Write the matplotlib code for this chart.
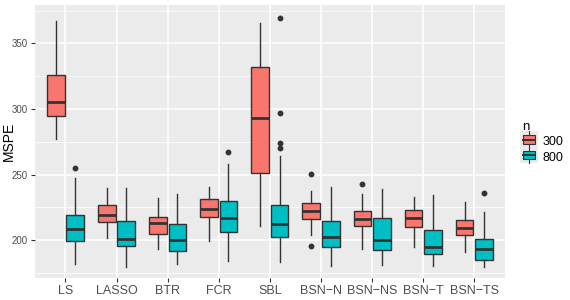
import matplotlib
matplotlib.use("Agg")
import matplotlib.pyplot as plt
from matplotlib.legend_handler import HandlerBase
from matplotlib.patches import Rectangle
from matplotlib.lines import Line2D

plt.rcParams["font.family"] = ["Liberation Sans", "DejaVu Sans"]

# methods on the x axis
methods = ["LS", "LASSO", "BTR", "FCR", "SBL", "BSN\u2212N", "BSN\u2212NS", "BSN\u2212T", "BSN\u2212TS"]

# box stats, one list per group (n = 300 / n = 800)
lo_300 = [277, 201.3, 193, 199.5, 211, 203.8, 192.9, 194.9, 191.1]
q1_300 = [295, 213.5, 205, 217.8, 250.9, 216.3, 210.4, 209.7, 203.6]
med_300 = [305.5, 219, 213.2, 223.6, 292.8, 222.4, 216.3, 216.5, 208.9]
q3_300 = [326, 226.5, 217.5, 231, 332.2, 228.2, 222.4, 222.6, 215]
hi_300 = [367, 240, 232, 240.7, 365.8, 237.6, 235, 232.6, 229.2]
out_300 = [[], [], [], [], [], [250.3, 195.7], [242.7], [], []]

lo_800 = [181.5, 179.4, 181.7, 184.2, 183, 180.2, 181, 180.4, 179.6]
q1_800 = [199, 195.7, 192, 206.3, 202, 194.9, 192.1, 189.3, 184.7]
med_800 = [208.6, 200.8, 200, 216.8, 212, 202.5, 200, 194.7, 192.9]
q3_800 = [219, 214.5, 212.5, 230, 227, 214.7, 216.5, 207.6, 200.8]
hi_800 = [247, 239.4, 234.9, 258, 264, 240.2, 238.7, 234, 221.6]
out_800 = [[255], [], [], [267.4], [369.3, 296.6, 274.2, 270], [], [], [], [235.9]]

groups = ["300", "800"]
colors = ["#F8766D", "#00BFC4"]
edge = "#333333"


def make_stats(lo, q1, med, q3, hi, out):
    return [dict(whislo=a, q1=b, med=c, q3=d, whishi=e, fliers=f)
            for a, b, c, d, e, f in zip(lo, q1, med, q3, hi, out)]


stats = [make_stats(lo_300, q1_300, med_300, q3_300, hi_300, out_300),
         make_stats(lo_800, q1_800, med_800, q3_800, hi_800, out_800)]

fig = plt.figure(figsize=(5.7, 3.0), dpi=100)
ax = fig.add_axes([0.061, 0.073, 0.825, 0.91])
ax.set_facecolor("#EBEBEB")

# grid like ggplot theme_grey
for v in [175, 225, 275, 325, 375]:
    ax.axhline(v, color="white", lw=0.6, zorder=0)
for v in [200, 250, 300, 350]:
    ax.axhline(v, color="white", lw=1.1, zorder=0)
for i in range(len(methods)):
    ax.axvline(i, color="white", lw=1.1, zorder=0)

offset = 0.19
width = 0.345
for g, (st, col) in enumerate(zip(stats, colors)):
    pos = [i + (g - 0.5) * 2 * offset for i in range(len(methods))]
    ax.bxp(st, positions=pos, widths=width, patch_artist=True, showcaps=False,
           boxprops=dict(facecolor=col, edgecolor=edge, linewidth=1.0),
           medianprops=dict(color=edge, linewidth=2.0),
           whiskerprops=dict(color=edge, linewidth=1.0),
           flierprops=dict(marker="o", markerfacecolor=edge, markeredgecolor=edge,
                           markersize=3.2, linestyle="none"),
           manage_ticks=False, zorder=2)

ax.set_xlim(-0.6, len(methods) - 0.4)
ax.set_ylim(171, 379.2)
ax.set_xticks(range(len(methods)))
ax.set_xticklabels(methods, fontsize=9, color="#4D4D4D")
ax.set_yticks([200, 250, 300, 350])
ax.tick_params(axis="y", labelsize=7, colors="#4D4D4D")
ax.tick_params(axis="both", length=3, width=0.8, color="#333333", pad=2)
ax.set_ylabel("MSPE", fontsize=10)
ax.yaxis.set_label_coords(-0.041, 0.5)
for s in ax.spines.values():
    s.set_visible(False)


class BoxKey(HandlerBase):
    def create_artists(self, legend, orig, x0, y0, w, h, fontsize, trans):
        bg = Rectangle((x0 - 2, y0 - 2.5), w + 4, h + 5, facecolor="#EBEBEB",
                       edgecolor="none", transform=trans)
        cx = x0 + w / 2
        wl = Line2D([cx, cx], [y0 - 2.5, y0 + h + 2.5], color=edge, lw=0.8, transform=trans)
        bx = Rectangle((x0 + 0.5, y0 + 0.5), w - 1, h - 1, facecolor=orig.get_facecolor(),
                       edgecolor=edge, lw=0.8, transform=trans)
        md = Line2D([x0 + 0.5, x0 + w - 0.5], [y0 + h / 2, y0 + h / 2], color=edge, lw=1.4,
                    transform=trans)
        return [bg, wl, bx, md]


handles = [Rectangle((0, 0), 1, 1, facecolor=c) for c in colors]
leg = fig.legend(handles, groups, title="n", loc="upper left",
                 bbox_to_anchor=(0.897, 0.635), frameon=False, fontsize=9,
                 title_fontsize=9.5, handler_map={Rectangle: BoxKey()},
                 handlelength=1.05, handleheight=0.85, handletextpad=0.55,
                 labelspacing=0.25, alignment="left")

fig.savefig("out.png", dpi=100)
